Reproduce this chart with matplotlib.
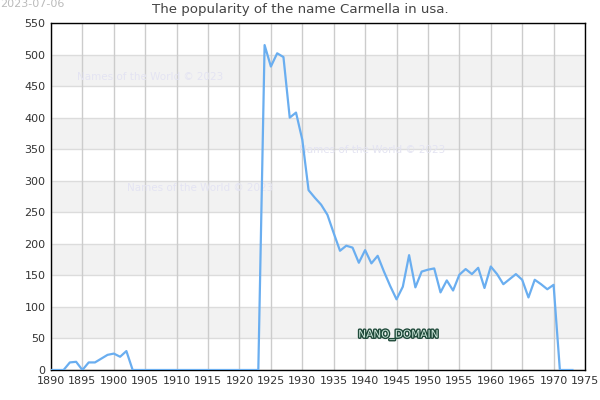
import matplotlib
matplotlib.use("Agg")
import matplotlib.pyplot as plt
import matplotlib.patheffects as pe

# values
years = list(range(1890, 1974))
counts = [0, 0, 0, 12, 13, 0, 12, 12, 18, 24, 26, 21, 30, 0,
          0, 0, 0, 0, 0, 0, 0, 0, 0, 0, 0, 0, 0, 0, 0, 0,
          0, 0, 0, 0,
          515, 481, 502, 496, 400, 408, 365, 285, 273, 262, 246, 217,
          189, 197, 194, 170, 190, 169, 181, 156, 133, 112, 132, 182,
          131, 156, 159, 161, 123, 142, 126, 151, 160, 152, 162, 130,
          164, 152, 136, 144, 152, 143, 115, 143, 136, 128, 135,
          0, 0, 0]
xticks = list(range(1890, 1980, 5))
yticks = list(range(0, 600, 50))
title = "The popularity of the name Carmella in usa."
watermarks = [(150, 77), (372, 150), (200, 188)]

fig = plt.figure(figsize=(6, 4), dpi=100)
ax = fig.add_axes([51 / 600, 1 - 370 / 400, 534 / 600, 347 / 400])

# alternating bands
for lo in range(50, 550, 100):
    ax.axhspan(lo, lo + 50, color="#f2f2f2", zorder=0, lw=0)
for y in yticks:
    ax.axhline(y, color="#dcdcdc", lw=1, zorder=1)
for x in xticks:
    ax.axvline(x, color="#cccccc", lw=1, zorder=1)

# watermarks sit under the line
for (px, py) in watermarks:
    ax.text(px / 600, 1 - py / 400, "Names of the World © 2023", ha="center", va="center",
            fontsize=7.5, color="#e4e4f2", zorder=2, transform=fig.transFigure)

ax.plot(years, counts, color="#6aaef0", lw=1.6, zorder=3)

ax.set_xlim(1890, 1975)
ax.set_ylim(0, 550)
ax.set_xticks(xticks)
ax.set_yticks(yticks)
ax.tick_params(labelsize=8, colors="#333333", length=0, pad=4)
for s in ax.spines.values():
    s.set_color("black")
    s.set_linewidth(1)

fig.text(0.5, 1 - 10 / 400, title, ha="center", va="center", fontsize=9.6, color="#444444")
fig.text(0, 1 - 4 / 400, "2023-07-06", ha="left", va="center", fontsize=8, color="#bbbbbb")

t = fig.text(398 / 600, 1 - 335 / 400, "NANO_DOMAIN", ha="center", va="center",
             fontsize=7.6, color="#cfe8dc", zorder=5)
t.set_path_effects([pe.Stroke(linewidth=2, foreground="#1f4a3a"), pe.Normal()])

fig.savefig("out.png", dpi=100)
